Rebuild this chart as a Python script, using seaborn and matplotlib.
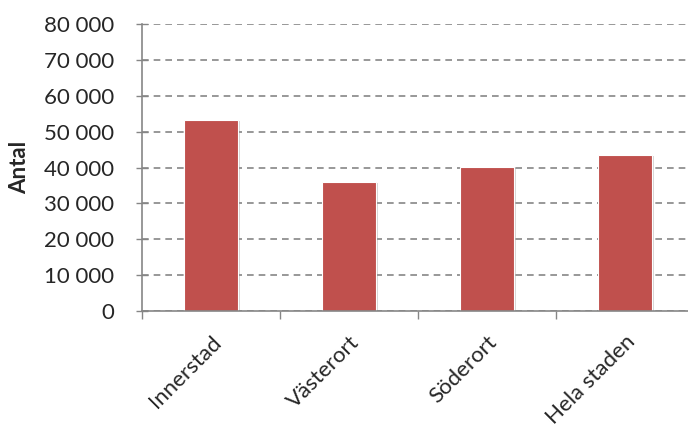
import matplotlib
matplotlib.use("Agg")
import matplotlib.pyplot as plt
import matplotlib.patheffects as pe
from matplotlib.ticker import FuncFormatter, FixedLocator
import pandas as pd
import seaborn as sns

categories = ["Innerstad", "Västerort", "Söderort", "Hela staden"]
antal = [53300, 36000, 40200, 43500]
yticks = list(range(0, 80001, 10000))

df = pd.DataFrame({"omrade": categories, "antal": antal})

sns.set_style("white")
plt.rcParams["font.family"] = ["Lato", "DejaVu Sans"]

fig = plt.figure(figsize=(6.88, 4.32), dpi=100)
ax = fig.add_axes([142 / 688, 1 - 311 / 432, 552 / 688, 287 / 432])

sns.barplot(data=df, x="omrade", y="antal", color="#C0504D", saturation=1,
            width=0.39, ax=ax, edgecolor="white", linewidth=0.8)
for p in ax.patches:
    p.set_path_effects([pe.SimplePatchShadow(offset=(1.5, -1), shadow_rgbFace="#888888", alpha=0.35),
                        pe.Normal()])

ax.set_xlim(-0.5, 3.5)
ax.set_ylim(0, 80000)
ax.set_yticks(yticks)
ax.yaxis.set_major_formatter(FuncFormatter(lambda v, _: f"{int(v):,}".replace(",", " ")))
ax.yaxis.grid(True, color="#868686", linestyle=(0, (4, 3)), linewidth=1.2)
ax.set_axisbelow(True)

ax.xaxis.set_minor_locator(FixedLocator([-0.5, 0.5, 1.5, 2.5, 3.5]))
ax.tick_params(axis="x", which="major", length=0, labelsize=16, pad=15)
ax.tick_params(axis="x", which="minor", length=6, width=1, color="#868686", direction="out", bottom=True)
ax.tick_params(axis="y", length=8, width=1, color="#868686", direction="inout", labelsize=16, pad=16, left=True)
for lbl in ax.get_xticklabels():
    lbl.set_rotation(45)
    lbl.set_ha("right")
    lbl.set_rotation_mode("anchor")

for s in ["top", "right"]:
    ax.spines[s].set_visible(False)
for s in ["left", "bottom"]:
    ax.spines[s].set_color("#868686")
    ax.spines[s].set_linewidth(1.2)

ax.set_xlabel("")
ax.set_ylabel("Antal", fontsize=16, fontweight="bold")
ax.yaxis.set_label_coords((30 - 142) / 552, 0.5)

fig.savefig("out.png", dpi=100)
